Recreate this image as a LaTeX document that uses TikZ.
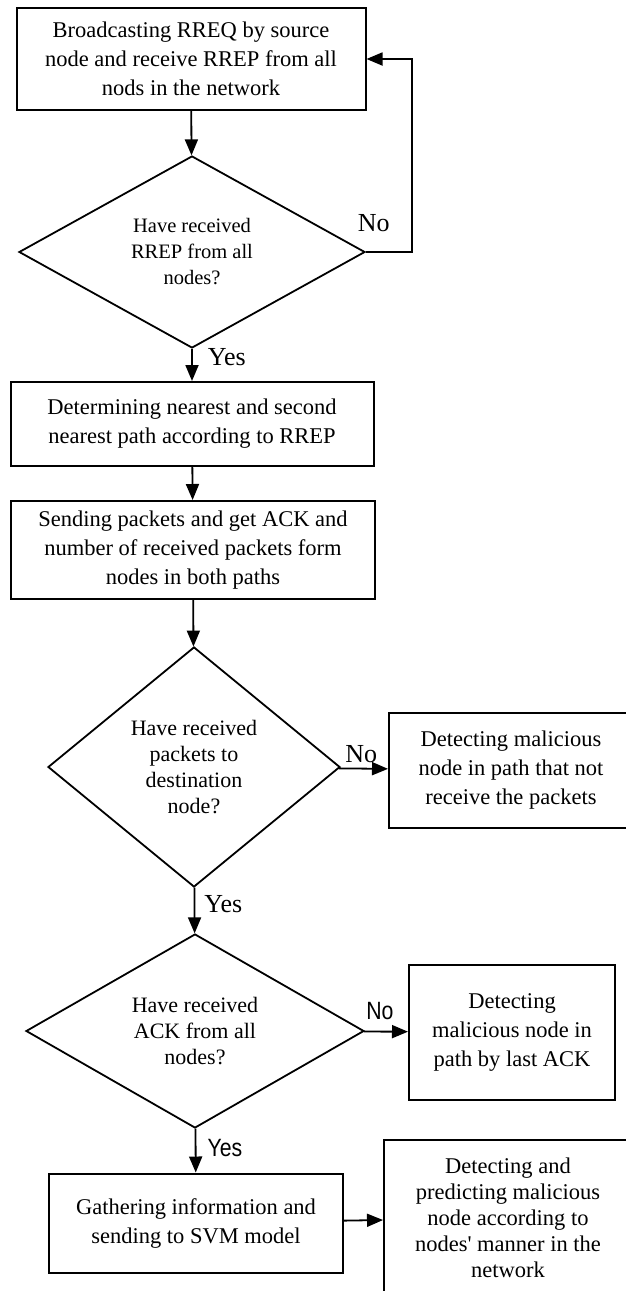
\documentclass[tikz,border=0pt]{standalone}
\usepackage{fontspec}
\setmainfont{Liberation Serif}
\newfontfamily\labsans{Liberation Sans}
\usetikzlibrary{shapes.geometric,arrows.meta}

\begin{document}
\begin{tikzpicture}[x=1pt,y=-1pt,
	box/.style={draw, line width=2pt, align=center, inner sep=0pt, font=\fontsize{22.5}{29}\selectfont},
	cond/.style={draw, diamond, line width=1.8pt, align=center, inner sep=0pt, font=\fontsize{22}{26}\selectfont},
	arr/.style={line width=1.8pt, -{Triangle[length=16pt,width=13pt]}},
	lab/.style={font=\fontsize{26}{26}\selectfont, inner sep=2pt}]
	\useasboundingbox (0,0) rectangle (625,1291);
	\node[box, minimum width=349, minimum height=102] (1) at (191,59) {Broadcasting RREQ by source\\node and receive RREP from all\\nods in the network};
	\node[cond, minimum width=346, minimum height=192, font=\fontsize{20.5}{26}\selectfont] (2) at (192,252) {Have received\\RREP from all\\nodes?};
		\node[box, minimum width=363, minimum height=84] (3) at (192,424) {Determining nearest and second\\nearest path according to RREP};
		\node[box, minimum width=364, minimum height=98] (4) at (193,550) {Sending packets and get ACK and\\number of received packets form\\nodes in both paths};
			\node[cond, minimum width=292, minimum height=240] (5) at (194,767) {Have received\\packets to\\destination\\node?};
			\node[box, minimum width=244, minimum height=115] (6) at (511,770) {Detecting malicious\\node in path that not\\receive the packets};
		\node[cond, minimum width=338, minimum height=193] (7) at (195,1031) {Have received\\ACK from all\\nodes?};
		\node[box, minimum width=206, minimum height=135] (8) at (512,1032) {Detecting\\malicious node in\\path by last ACK};
	\node[box, minimum width=294, minimum height=99] (9) at (196,1223) {Gathering information and\\sending to SVM model};
	\node[box, minimum width=248, minimum height=156, font=\fontsize{22.5}{26}\selectfont] (10) at (508,1218) {Detecting and\\predicting malicious\\node according to\\nodes\textquotesingle\ manner in the\\network};
	\draw[arr] (1) to (2);
	\draw[arr] (2.east) -- node[lab, pos=0.17, above=17pt] {No} ++(46,0) |- (1.east);
	\draw[arr] (2) to node[lab, pos=0.27, right=13pt] {Yes} (3);
	\draw[arr] (3) to (4);
	\draw[arr] (4) to (5);
	\draw[arr] (5) to node[lab, pos=0.45, above=3pt] {No} (6);
	\draw[arr] (5) to node[lab, pos=0.37, right=7pt] {Yes} (7);
	\draw[arr] (7) to node[lab, pos=0.36, above=9pt, font=\labsans\fontsize{25}{25}\selectfont] {\scalebox{0.85}[1]{No}} (8);
	\draw[arr] (7) to node[lab, pos=0.45, right=9pt, font=\labsans\fontsize{25}{25}\selectfont] {\scalebox{0.85}[1]{Yes}} (9);
	\draw[arr] (9) to (10);
\end{tikzpicture}
\end{document}
